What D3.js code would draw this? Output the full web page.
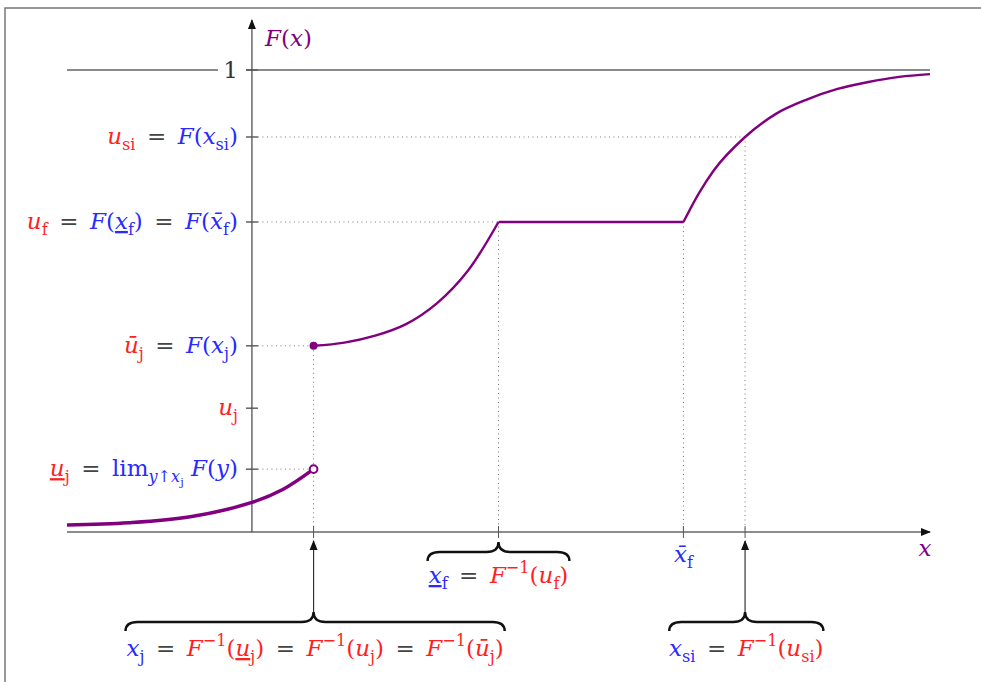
<!DOCTYPE html>
<html>
<head>
<meta charset="utf-8">
<script src="https://cdn.jsdelivr.net/npm/d3@7"></script>
<style>
  body { margin: 0; background: #fff; }
  text { font-family: "DejaVu Serif", serif; white-space: pre; }
</style>
</head>
<body>
<div id="chart"></div>
<script>
// curve pieces of F(x)
var seg1X = [-3, -2, -1, 0, 0.5, 1];
var seg1Y = [0.015, 0.020, 0.033, 0.064, 0.092, 0.136];
var seg2X = [1, 1.5, 2, 2.5, 3, 3.5, 4];
var seg2Y = [0.403, 0.41, 0.425, 0.45, 0.495, 0.565, 0.671];
var seg3X = [4, 7];
var seg3Y = [0.671, 0.671];
var seg4X = [7, 7.25, 7.5, 8, 8.5, 9, 9.5, 10, 10.5, 11];
var seg4Y = [0.671, 0.733, 0.784, 0.855, 0.905, 0.936, 0.959, 0.974, 0.985, 0.991];

// ticks on F axis
var yTickValues = [0.855, 0.671, 0.403, 0.268, 0.136];
// guide lines go to these x values
var yTickReach = [8, 4, 1, null, 1];

// ticks on x axis
var xTickValues = [1, 4, 7, 8];

var EQ = "\u2002=\u2002";
// label pieces: [text, colour, flags]  flags: i italic, _ sub, __ subsub, ^ sup, u underline, o overline
var yTickLabels = [
  [["u","r","i"],["si","r","_"],[EQ,"k",""],["F","b","i"],["(","b",""],["x","b","i"],["si","b","_"],[")","b",""]],
  [["u","r","i"],["f","r","_"],[EQ,"k",""],["F","b","i"],["(","b",""],["x","b","iu"],["f","b","_"],[")","b",""],
   [EQ,"k",""],["F","b","i"],["(","b",""],["x","b","io"],["f","b","_"],[")","b",""]],
  [["u","r","io"],["j","r","_"],[EQ,"k",""],["F","b","i"],["(","b",""],["x","b","i"],["j","b","_"],[")","b",""]],
  [["u","r","i"],["j","r","_"]],
  [["u","r","iu"],["j","r","_"],[EQ,"k",""],["lim","b",""],["y","b","i_"],["↑","b","_"],["x","b","i_"],["j","b","__"],
   [" ","b",""],["F","b","i"],["(","b",""],["y","b","i"],[")","b",""]]
];

var braceLabels = [
  { x: [-2.05, 4.1], tip: 1, arrow: true, row: 1, parts: [["x","b","i"],["j","b","_"],[EQ,"k",""],
      ["F","r","i"],["−1","r","^"],["(","r",""],["u","r","iu"],["j","r","_"],[")","r",""],[EQ,"k",""],
      ["F","r","i"],["−1","r","^"],["(","r",""],["u","r","i"],["j","r","_"],[")","r",""],[EQ,"k",""],
      ["F","r","i"],["−1","r","^"],["(","r",""],["u","r","io"],["j","r","_"],[")","r",""]] },
  { x: [2.85, 5.15], tip: 4, arrow: false, row: 0, parts: [["x","b","iu"],["f","b","_"],[EQ,"k",""],
      ["F","r","i"],["−1","r","^"],["(","r",""],["u","r","i"],["f","r","_"],[")","r",""]] },
  { x: [6.77, 9.27], tip: 8, arrow: true, row: 1, parts: [["x","b","i"],["si","b","_"],[EQ,"k",""],
      ["F","r","i"],["−1","r","^"],["(","r",""],["u","r","i"],["si","r","_"],[")","r",""]] }
];
var xbarLabel = [["x","b","io"],["f","b","_"]];

var colours = { r: "#ff1f1f", b: "#2a2aff", k: "#444", p: "#800080" };

var W = 981, H = 682, FS = 23;
var svg = d3.select("#chart").append("svg").attr("width", W).attr("height", H);

var x = d3.scaleLinear().domain([-3, 11]).range([67, 930]);
var y = d3.scaleLinear().domain([0, 1]).range([532, 70]);
var x0 = x(0);

svg.append("rect").attr("x", 5).attr("y", 8).attr("width", 1000).attr("height", 700)
  .attr("fill", "none").attr("stroke", "#777").attr("stroke-width", 1.5);

var defs = svg.append("defs");
defs.append("marker").attr("id", "arr").attr("viewBox", "0 0 10 10")
  .attr("refX", 9).attr("refY", 5).attr("markerWidth", 10).attr("markerHeight", 10)
  .attr("markerUnits", "userSpaceOnUse").attr("orient", "auto")
  .append("path").attr("d", "M0,1 L10,5 L0,9 Z").attr("fill", "#111");

// rich text helper; overline done with a combining macron
function rich(sel, parts, size) {
  var shift = 0;
  parts.forEach(function (p) {
    var f = p[2], fs = size, target = 0;
    if (f.indexOf("__") >= 0) { fs = size * 0.5; target = size * 0.42; }
    else if (f.indexOf("_") >= 0) { fs = size * 0.7; target = size * 0.25; }
    else if (f.indexOf("^") >= 0) { fs = size * 0.7; target = -size * 0.42; }
    var txt = p[0];
    if (f.indexOf("o") >= 0) txt = txt + "\u0304";
    var t = sel.append("tspan").text(txt)
      .attr("fill", colours[p[1]])
      .attr("font-size", fs)
      .attr("dy", target - shift);
    if (f.indexOf("i") >= 0) t.attr("font-style", "italic");
    if (f.indexOf("u") >= 0) t.style("text-decoration", "underline");
    shift = target;
  });
  return sel;
}

// line at 1
svg.append("line").attr("x1", x(-3)).attr("x2", x(11)).attr("y1", y(1)).attr("y2", y(1))
  .attr("stroke", "#8a8a8a").attr("stroke-width", 2);
svg.append("rect").attr("x", 218).attr("y", y(1) - 12).attr("width", 28).attr("height", 24).attr("fill", "#fff");
svg.append("text").attr("x", 238).attr("y", y(1) + 8).attr("text-anchor", "end")
  .attr("font-size", FS).attr("fill", "#333").text("1");

// dotted guides
var dot = svg.append("g").attr("stroke", "#777").attr("stroke-width", 1).attr("stroke-dasharray", "1,3.5");
yTickValues.forEach(function (v, i) {
  if (yTickReach[i] == null) return;
  dot.append("line").attr("x1", x0 + 6).attr("x2", x(yTickReach[i])).attr("y1", y(v)).attr("y2", y(v));
});
var vertTop = [0.403, 0.671, 0.671, 0.855];
xTickValues.forEach(function (v, i) {
  dot.append("line").attr("x1", x(v)).attr("x2", x(v)).attr("y1", y(vertTop[i])).attr("y2", y(0));
});

// axes
svg.append("line").attr("x1", x(-3)).attr("x2", x(11)).attr("y1", y(0)).attr("y2", y(0))
  .attr("stroke", "#666").attr("stroke-width", 1.6).attr("marker-end", "url(#arr)");
svg.append("line").attr("x1", x0).attr("x2", x0).attr("y1", y(0)).attr("y2", 20)
  .attr("stroke", "#444").attr("stroke-width", 1.2).attr("marker-end", "url(#arr)");

yTickValues.concat([1]).forEach(function (v) {
  svg.append("line").attr("x1", x0 - 6).attr("x2", x0 + 6).attr("y1", y(v)).attr("y2", y(v))
    .attr("stroke", "#555").attr("stroke-width", 1.4);
});
xTickValues.forEach(function (v) {
  svg.append("line").attr("x1", x(v)).attr("x2", x(v)).attr("y1", y(0) - 6).attr("y2", y(0) + 6)
    .attr("stroke", "#555").attr("stroke-width", 1);
});

// y labels
yTickValues.forEach(function (v, i) {
  rich(svg.append("text").attr("x", 238).attr("y", y(v) + 7).attr("text-anchor", "end"), yTickLabels[i], FS);
});

rich(svg.append("text").attr("x", 265).attr("y", 46), [["F","p","i"],["(","p",""],["x","p","i"],[")","p",""]], FS);
rich(svg.append("text").attr("x", 925).attr("y", 556).attr("text-anchor", "middle"), [["x","p","i"]], FS);
rich(svg.append("text").attr("x", x(7)).attr("y", 562).attr("text-anchor", "middle"), xbarLabel, FS);

// the curve
function pairs(a, b) { return a.map(function (v, i) { return [v, b[i]]; }); }
function lineWith(c) {
  return d3.line().x(function (d) { return x(d[0]); }).y(function (d) { return y(d[1]); }).curve(c);
}
var smooth = lineWith(d3.curveCatmullRom);
var mono = lineWith(d3.curveMonotoneX);

svg.append("path").attr("d", smooth(pairs(seg1X, seg1Y))).attr("fill", "none")
  .attr("stroke", "#800080").attr("stroke-width", 3.5);
svg.append("path").attr("d", smooth(pairs(seg2X, seg2Y))).attr("fill", "none")
  .attr("stroke", "#800080").attr("stroke-width", 2.4);
svg.append("path").attr("d", smooth(pairs(seg3X, seg3Y))).attr("fill", "none")
  .attr("stroke", "#800080").attr("stroke-width", 2.4);
svg.append("path").attr("d", mono(pairs(seg4X, seg4Y))).attr("fill", "none")
  .attr("stroke", "#800080").attr("stroke-width", 2.4);
svg.append("circle").attr("cx", x(1)).attr("cy", y(seg1Y[seg1Y.length - 1])).attr("r", 3.8)
  .attr("fill", "#fff").attr("stroke", "#800080").attr("stroke-width", 2);
svg.append("circle").attr("cx", x(1)).attr("cy", y(seg2Y[0])).attr("r", 4).attr("fill", "#800080");

// braces
function brace(x1, xm, x2, yt) {
  var ym = yt + 10, yb = ym + 9, q = 12;
  return "M" + x1 + "," + yb + " Q" + x1 + "," + ym + " " + (x1 + q) + "," + ym +
    " L" + (xm - q) + "," + ym + " Q" + xm + "," + ym + " " + xm + "," + yt +
    " Q" + xm + "," + ym + " " + (xm + q) + "," + ym +
    " L" + (x2 - q) + "," + ym + " Q" + x2 + "," + ym + " " + x2 + "," + yb;
}
braceLabels.forEach(function (b) {
  var yt = b.row ? 612 : 542;
  if (b.arrow) {
    svg.append("line").attr("x1", x(b.tip)).attr("x2", x(b.tip)).attr("y1", yt).attr("y2", y(0) + 9)
      .attr("stroke", "#333").attr("stroke-width", 1.2).attr("marker-end", "url(#arr)");
  }
  svg.append("path").attr("d", brace(x(b.x[0]), x(b.tip), x(b.x[1]), yt))
    .attr("fill", "none").attr("stroke", "#111").attr("stroke-width", 2.4);
  rich(svg.append("text").attr("x", (x(b.x[0]) + x(b.x[1])) / 2).attr("y", b.row ? 656 : 583)
    .attr("text-anchor", "middle"), b.parts, FS);
});
</script>
</body>
</html>
